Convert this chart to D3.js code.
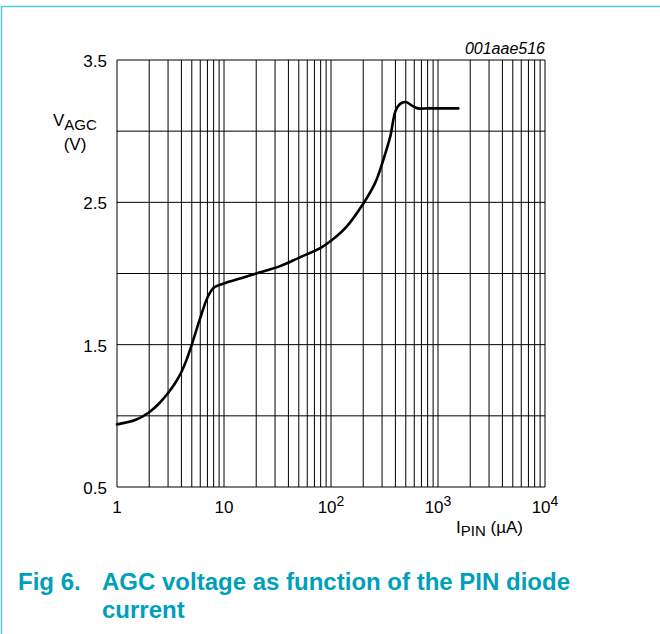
<!DOCTYPE html>
<html>
<head>
<meta charset="utf-8">
<script src="https://cdn.jsdelivr.net/npm/d3@7"></script>
<style>
  body { margin: 0; background: #fff; }
  svg { display: block; font-family: "Liberation Sans", Arial, Helvetica, sans-serif; }
</style>
</head>
<body>
<div id="chart"></div>
<script>
// PIN diode current (uA) and AGC voltage (V)
const currentUA = [1, 1.5, 2, 2.5, 3, 3.5, 4, 4.5, 5, 6, 7, 8, 10, 15, 20, 33, 50, 80, 100, 140, 200, 260, 300, 330, 360, 400, 440, 500, 570, 650, 800, 1000, 1550];
const vAgc = [0.94, 0.972, 1.025, 1.09, 1.16, 1.231, 1.308, 1.4, 1.5, 1.688, 1.83, 1.9, 1.93, 1.97, 2.0, 2.05, 2.11, 2.18, 2.23, 2.33, 2.49, 2.64, 2.77, 2.87, 2.97, 3.14, 3.19, 3.205, 3.18, 3.16, 3.16, 3.16, 3.16];

const xTickValues = [1, 10, 100, 1000, 10000];
const xTickExp = ["", "", "2", "3", "4"];
const yGridValues = [0.5, 1, 1.5, 2, 2.5, 3, 3.5];
const yTickLabels = ["0.5", "1.5", "2.5", "3.5"];

const W = 660, H = 634;
let svg = d3.select("#chart").append("svg").attr("width", W).attr("height", H);
svg.append("rect").attr("width", W).attr("height", H).attr("fill", "#fff");

// light frame round the figure
svg.append("path")
  .attr("d", "M1.5," + H + "V6.5H" + W)
  .attr("fill", "none")
  .attr("stroke", "#5cc6da")
  .attr("stroke-width", 1.5);

let x = d3.scaleLog().domain([1, 1e4]).range([117, 545]);
let y = d3.scaleLinear().domain([0.5, 3.5]).range([487, 60]);

// log grid: 1..9 in every decade
let gridX = [];
for (let k = 0; k < 4; k++) for (let m = 1; m < 10; m++) gridX.push(m * Math.pow(10, k));
gridX.push(1e4);

let grid = svg.append("g").attr("stroke", "#000").attr("stroke-width", 1);
grid.selectAll("line.vx").data(gridX).enter().append("line")
  .attr("x1", d => x(d)).attr("x2", d => x(d))
  .attr("y1", y(0.5)).attr("y2", y(3.5));
grid.selectAll("line.hy").data(yGridValues).enter().append("line")
  .attr("x1", x(1)).attr("x2", x(1e4))
  .attr("y1", d => y(d)).attr("y2", d => y(d));

// y tick labels
svg.append("g").selectAll("text").data(yTickLabels).enter().append("text")
  .attr("x", 107).attr("y", d => y(+d) + 7)
  .attr("text-anchor", "end")
  .attr("font-size", 17)
  .text(d => d);

// x tick labels with superscripts
let xl = svg.append("g").selectAll("text").data(xTickValues).enter().append("text")
  .attr("x", d => x(d)).attr("y", 512.5)
  .attr("text-anchor", "middle")
  .attr("font-size", 17);
xl.append("tspan").text(d => String(d).length > 2 ? "10" : String(d));
xl.append("tspan").attr("font-size", 14).attr("dy", -6.5).text((d, i) => xTickExp[i]);

// axis titles
let yt = svg.append("text").attr("x", 53).attr("y", 126).attr("font-size", 17);
yt.append("tspan").text("V");
yt.append("tspan").attr("font-size", 15).attr("dy", 4).text("AGC");
svg.append("text").attr("x", 75).attr("y", 150).attr("text-anchor", "middle").attr("font-size", 17).text("(V)");

let xt = svg.append("text").attr("x", 456).attr("y", 533).attr("font-size", 17);
xt.append("tspan").text("I");
xt.append("tspan").attr("font-size", 15).attr("dy", 3).text("PIN");
xt.append("tspan").attr("dy", -3).text(" (\u00b5A)");

svg.append("text")
  .attr("x", 545).attr("y", 54)
  .attr("text-anchor", "end")
  .attr("font-size", 16)
  .attr("font-style", "italic")
  .text("001aae516");

// curve
let line = d3.line()
  .x((d, i) => x(currentUA[i]))
  .y(d => y(d))
  .curve(d3.curveCatmullRom.alpha(0.5));
svg.append("path")
  .datum(vAgc)
  .attr("fill", "none")
  .attr("stroke", "#000")
  .attr("stroke-width", 2.6)
  .attr("stroke-linejoin", "round")
  .attr("stroke-linecap", "round")
  .attr("d", line);

// caption
let cap = svg.append("g").attr("fill", "#009fbb").attr("font-weight", "bold").attr("font-size", 24);
cap.append("text").attr("x", 18).attr("y", 590).text("Fig 6.");
cap.append("text").attr("x", 102).attr("y", 590).text("AGC voltage as function of the PIN diode");
cap.append("text").attr("x", 102).attr("y", 618).text("current");
</script>
</body>
</html>
